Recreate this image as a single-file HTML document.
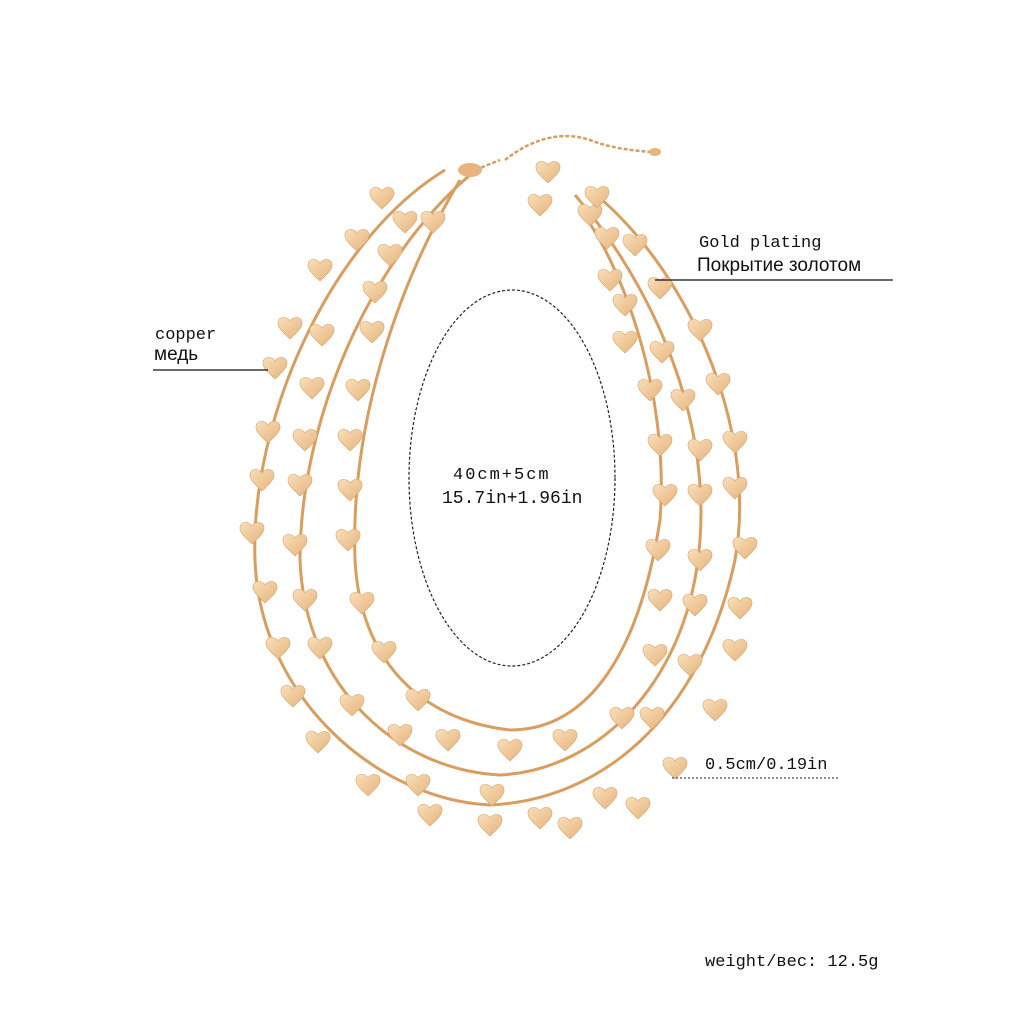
<!DOCTYPE html>
<html><head><meta charset="utf-8"><style>
body{margin:0;background:#fff;width:1024px;height:1024px;overflow:hidden}
svg{position:absolute;left:0;top:0}
.t{position:absolute;white-space:nowrap;color:#111}
.m{font-family:"Liberation Mono",monospace;font-size:17px}
.s{font-family:"Liberation Sans",sans-serif;font-size:19px}
</style></head><body>
<svg width="1024" height="1024" viewBox="0 0 1024 1024">
<defs>
<linearGradient id="g" x1="0" y1="0" x2="1" y2="1"><stop offset="0" stop-color="#f8dfba"/><stop offset="1" stop-color="#e6b37c"/></linearGradient>
<path id="h" d="M0,11 C-5,6 -13,0 -12,-6 C-11,-12 -3,-12 0,-7 C3,-12 11,-12 12,-6 C13,0 5,6 0,11 Z" fill="url(#g)" stroke="#dba46a" stroke-width="0.6"/>
</defs>
<g fill="none" stroke="#d99d5e" stroke-width="3">
<path d="M445,170 C330,240 250,420 255,560 C260,700 380,800 490,805 C600,800 700,720 735,560 C760,420 680,260 590,190"/>
<path d="M470,175 C370,260 300,420 300,560 C305,690 400,770 500,775 C600,770 690,680 700,540 C710,400 640,270 575,195"/>
<path d="M460,180 C400,280 350,420 355,560 C360,660 420,720 510,730 C590,730 640,650 660,520 C670,390 620,260 580,210"/>
<path d="M470,172 L500,160 M505,160 C530,140 560,130 590,140 C610,148 630,150 650,152" stroke-width="2.5" stroke-dasharray="4 2"/>
</g>
<ellipse cx="470" cy="170" rx="12" ry="7" fill="#e6b47c"/>
<ellipse cx="655" cy="152" rx="6" ry="4" fill="#e6b47c"/>
<g>
<use href="#h" x="382" y="198"/><use href="#h" x="405" y="222"/><use href="#h" x="433" y="222"/><use href="#h" x="357" y="240"/><use href="#h" x="390" y="255"/><use href="#h" x="320" y="270"/><use href="#h" x="375" y="292"/><use href="#h" x="290" y="328"/><use href="#h" x="322" y="335"/><use href="#h" x="372" y="332"/><use href="#h" x="275" y="368"/><use href="#h" x="312" y="388"/><use href="#h" x="358" y="390"/><use href="#h" x="268" y="432"/><use href="#h" x="305" y="440"/><use href="#h" x="350" y="440"/><use href="#h" x="262" y="480"/><use href="#h" x="300" y="485"/><use href="#h" x="350" y="490"/><use href="#h" x="252" y="533"/><use href="#h" x="295" y="545"/><use href="#h" x="348" y="540"/><use href="#h" x="265" y="592"/><use href="#h" x="305" y="600"/><use href="#h" x="362" y="603"/><use href="#h" x="278" y="648"/><use href="#h" x="320" y="648"/><use href="#h" x="384" y="652"/><use href="#h" x="293" y="696"/><use href="#h" x="352" y="705"/><use href="#h" x="418" y="700"/><use href="#h" x="318" y="742"/><use href="#h" x="400" y="735"/><use href="#h" x="448" y="740"/><use href="#h" x="368" y="785"/><use href="#h" x="418" y="785"/><use href="#h" x="510" y="750"/><use href="#h" x="565" y="740"/><use href="#h" x="622" y="718"/><use href="#h" x="430" y="815"/><use href="#h" x="490" y="825"/><use href="#h" x="540" y="818"/><use href="#h" x="570" y="828"/><use href="#h" x="492" y="795"/><use href="#h" x="605" y="798"/><use href="#h" x="638" y="808"/><use href="#h" x="675" y="768"/><use href="#h" x="715" y="710"/><use href="#h" x="652" y="718"/><use href="#h" x="735" y="650"/><use href="#h" x="690" y="665"/><use href="#h" x="655" y="655"/><use href="#h" x="740" y="608"/><use href="#h" x="695" y="605"/><use href="#h" x="660" y="600"/><use href="#h" x="745" y="548"/><use href="#h" x="700" y="560"/><use href="#h" x="658" y="550"/><use href="#h" x="735" y="488"/><use href="#h" x="700" y="495"/><use href="#h" x="665" y="495"/><use href="#h" x="735" y="442"/><use href="#h" x="700" y="450"/><use href="#h" x="660" y="445"/><use href="#h" x="718" y="384"/><use href="#h" x="683" y="400"/><use href="#h" x="650" y="390"/><use href="#h" x="700" y="330"/><use href="#h" x="662" y="352"/><use href="#h" x="625" y="342"/><use href="#h" x="660" y="288"/><use href="#h" x="625" y="305"/><use href="#h" x="635" y="245"/><use href="#h" x="610" y="280"/><use href="#h" x="590" y="215"/><use href="#h" x="548" y="172"/><use href="#h" x="540" y="205"/><use href="#h" x="597" y="197"/><use href="#h" x="607" y="238"/>
</g>
<ellipse cx="512" cy="478" rx="103" ry="188" fill="none" stroke="#222" stroke-width="1.2" stroke-dasharray="3 2"/>
<line x1="153" y1="370" x2="268" y2="370" stroke="#111" stroke-width="1.2"/>
<line x1="655" y1="280" x2="893" y2="280" stroke="#111" stroke-width="1.2"/>
<line x1="672" y1="778" x2="840" y2="778" stroke="#222" stroke-width="1" stroke-dasharray="2 2"/>
</svg>
<div class="t m" style="left:155px;top:326px">copper</div>
<div class="t s" style="left:154px;top:344px">медь</div>
<div class="t m" style="left:699px;top:234px">Gold plating</div>
<div class="t s" style="left:697px;top:255px">Покрытие золотом</div>
<div class="t m" style="left:453px;top:466px;letter-spacing:2px">40cm+5cm</div>
<div class="t m" style="left:442px;top:489px;font-size:18px">15.7in+1.96in</div>
<div class="t m" style="left:705px;top:756px">0.5cm/0.19in</div>
<div class="t m" style="left:705px;top:953px">weight/вес: 12.5g</div>
</body></html>
